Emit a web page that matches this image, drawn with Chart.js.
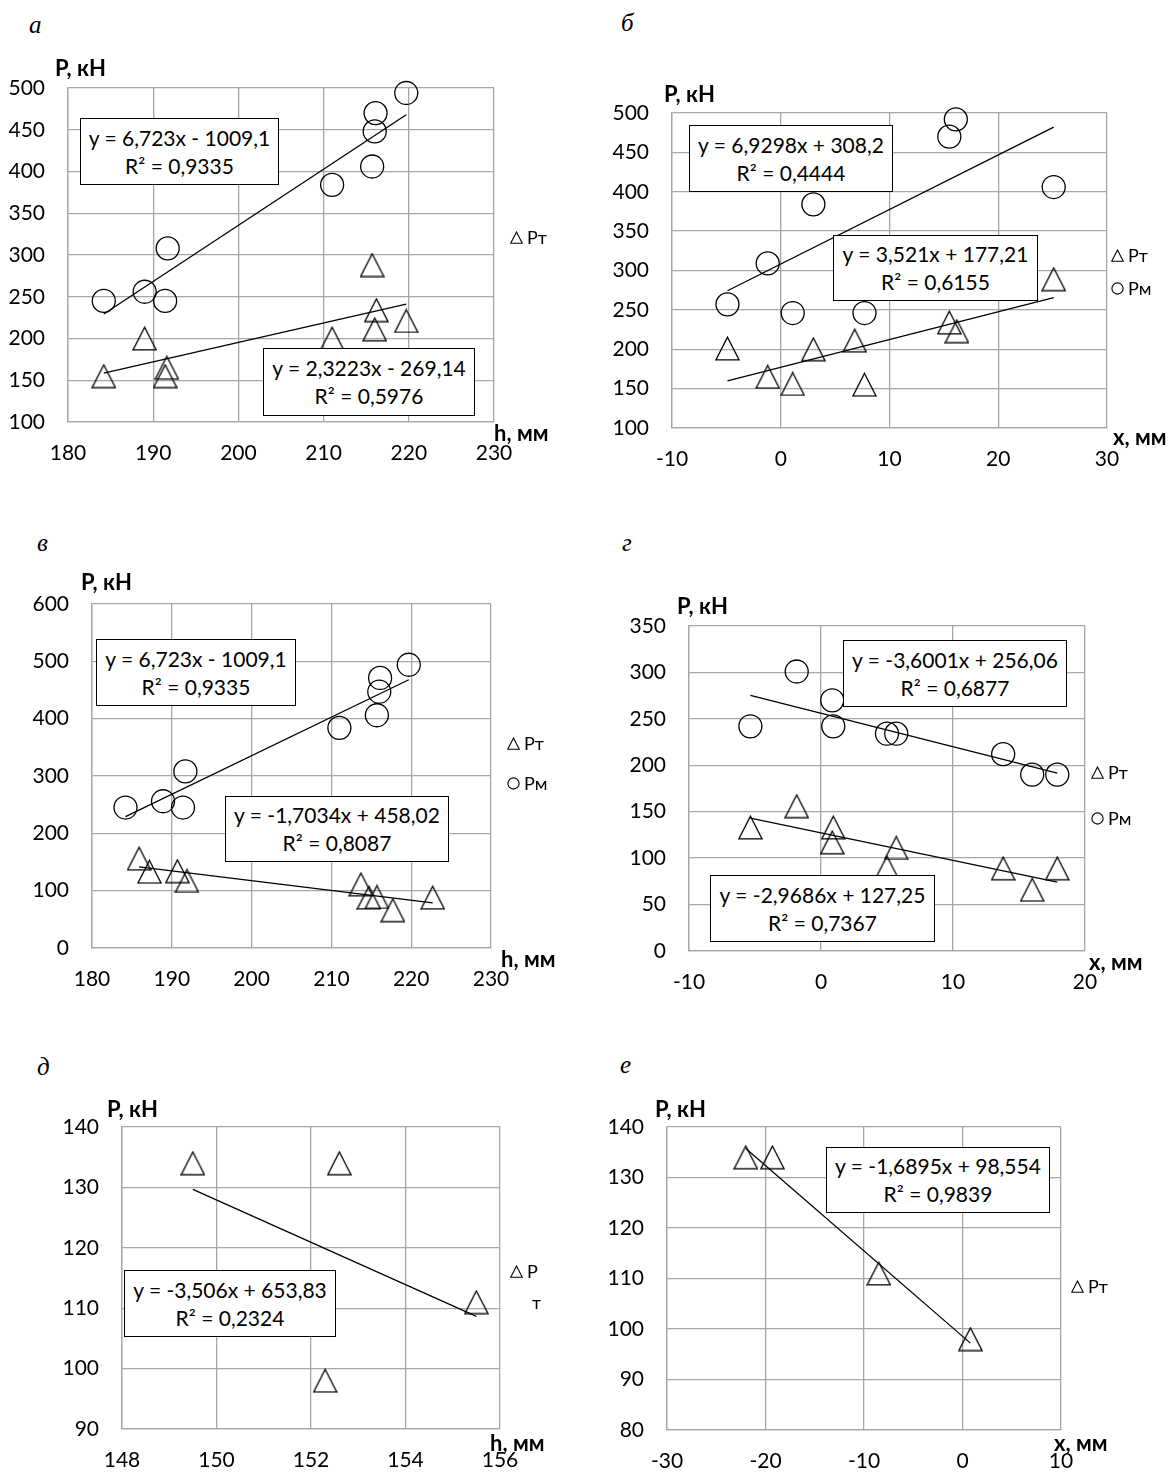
<!DOCTYPE html>
<html lang="ru">
<head>
<meta charset="utf-8">
<script src="https://cdn.jsdelivr.net/npm/chart.js@4.4.1/dist/chart.umd.min.js"></script>
<style>
  body { margin: 0; background: #fff; }
  #page { position: relative; width: 1170px; height: 1473px; overflow: hidden; font-family: Lato, "Open Sans", sans-serif; color: #000; }
  #page canvas { position: absolute; }
  .lbl { position: absolute; white-space: nowrap; transform: translateY(-50%); line-height: 1; }
  .letter { font-family: "Liberation Serif", serif; font-style: italic; font-size: 25px; }
  .axt { font-weight: bold; font-size: 22px; }
  .leg { font-size: 18px; display: flex; align-items: center; gap: 4px; }
  .eq { position: absolute; box-sizing: border-box; border: 1.6px solid #000; background: #fff;
        display: flex; flex-direction: column; justify-content: center; align-items: center;
        font-size: 21px; line-height: 28px; white-space: nowrap; }
</style>
</head>
<body>
<div id="page"></div>
<script>
// --- Data ---
// а: P vs h
const aHPm = [184.2, 189.0, 191.7, 191.4, 211.0, 215.7, 216.1, 216.0, 219.7];
const aPm  = [245, 256, 308, 245, 384, 406, 470, 448, 494];
const aHPt = [184.2, 189.0, 191.6, 191.4, 211.0, 215.7, 216.2, 216.0, 219.7];
const aPt  = [155, 200, 165, 155, 200, 288, 234, 211, 221];
const aFitPm = [6.723, -1009.1];
const aFitPt = [2.3223, -269.14];
const aXTicks = [180, 190, 200, 210, 220, 230];
const aYTicks = [100, 150, 200, 250, 300, 350, 400, 450, 500];

// б: P vs x
const bXPm = [-4.9, -1.2, 1.1, 3.0, 7.7, 15.5, 16.1, 25.1];
const bPm  = [257, 309, 246, 384, 246, 470, 492, 406];
const bXPt = [-4.9, -1.2, 1.1, 3.0, 6.8, 7.7, 15.5, 16.2, 25.1];
const bPt  = [201, 165, 156, 200, 211, 155, 234, 223, 289];
const bFitPm = [6.9298, 308.2];
const bFitPt = [3.521, 177.21];
const bXTicks = [-10, 0, 10, 20, 30];
const bYTicks = [100, 150, 200, 250, 300, 350, 400, 450, 500];

// в: P vs h
const vHPm = [184.2, 188.9, 191.7, 191.4, 211.0, 215.7, 216.1, 216.0, 219.7];
const vPm  = [245, 256, 308, 245, 384, 406, 471, 447, 494];
const vHPt = [185.9, 187.2, 190.7, 191.9, 213.7, 214.7, 215.7, 217.7, 222.7];
const vPt  = [156, 133, 134, 117, 111, 88, 89, 66, 88];
const vFitPm = [6.723, -1009.1];
const vFitPt = [-1.7034, 458.02];
const vXTicks = [180, 190, 200, 210, 220, 230];
const vYTicks = [0, 100, 200, 300, 400, 500, 600];

// г: P vs x
const gXPm = [-5.35, -1.84, 0.85, 0.93, 5.0, 5.7, 13.8, 16.0, 17.9];
const gPm  = [242, 301, 270, 242, 234, 234, 212, 190, 190];
const gXPt = [-5.35, -1.84, 0.93, 0.85, 5.0, 5.7, 13.8, 16.0, 17.9];
const gPt  = [133, 156, 133, 117, 90, 111, 89, 66, 89];
const gFitPm = [-3.6001, 256.06];
const gFitPt = [-2.9686, 127.25];
const gXTicks = [-10, 0, 10, 20];
const gYTicks = [0, 50, 100, 150, 200, 250, 300, 350];

// д: P vs h
const dH   = [149.5, 152.6, 152.3, 155.5];
const dPt  = [134, 134, 98, 111];
const dFitPt = [-3.506, 653.83];
const dXTicks = [148, 150, 152, 154, 156];
const dYTicks = [90, 100, 110, 120, 130, 140];

// е: P vs x
const eX   = [-22.0, -19.3, -8.5, 0.8];
const ePt  = [134, 134, 111, 98];
const eFitPt = [-1.6895, 98.554];
const eXTicks = [-30, -20, -10, 0, 10];
const eYTicks = [80, 90, 100, 110, 120, 130, 140];

// --- Helpers ---
const page = document.getElementById('page');
Chart.defaults.font.family = 'Lato';

// triangle marker whose box is centred on the point (like the spreadsheet marker)
function triangleMarker() {
    const c = document.createElement('canvas');
    c.width = 25; c.height = 25;
    const g = c.getContext('2d');
    g.lineWidth = 1.3;
    g.strokeStyle = '#000';
    g.beginPath();
    g.moveTo(12.5, 1.2);
    g.lineTo(24, 23.8);
    g.lineTo(1, 23.8);
    g.closePath();
    g.stroke();
    return c;
}
const tri = triangleMarker();

function points(xs, ys) {
    return xs.map((x, i) => ({ x: x, y: ys[i] }));
}
function fitLine(xs, fit) {
    const lo = Math.min(...xs), hi = Math.max(...xs);
    return [{ x: lo, y: fit[0] * lo + fit[1] }, { x: hi, y: fit[0] * hi + fit[1] }];
}
function markerSet(xs, ys, kind) {
    return {
        data: points(xs, ys),
        showLine: false,
        pointStyle: kind === 'tri' ? tri : 'circle',
        pointRadius: 11.5,
        borderColor: '#000',
        borderWidth: 1.3,
        backgroundColor: 'rgba(0,0,0,0)',
        clip: false
    };
}
function trendSet(xs, fit) {
    return {
        data: fitLine(xs, fit),
        showLine: true,
        pointRadius: 0,
        borderColor: '#000',
        borderWidth: 1.3,
        clip: false
    };
}

function addText(cls, text, left, cy) {
    const el = document.createElement('div');
    el.className = 'lbl ' + cls;
    el.style.left = left + 'px';
    el.style.top = cy + 'px';
    el.textContent = text;
    page.appendChild(el);
    return el;
}
function addLegend(kind, text, left, cy) {
    const el = document.createElement('div');
    el.className = 'lbl leg';
    el.style.left = left + 'px';
    el.style.top = cy + 'px';
    const svg = kind === 'tri'
        ? '<svg width="13" height="13"><path d="M6.5 1 L12.3 12.3 L0.7 12.3 Z" fill="none" stroke="#000" stroke-width="1.1"/></svg>'
        : '<svg width="13" height="13"><circle cx="6.5" cy="6.5" r="5.6" fill="none" stroke="#000" stroke-width="1.1"/></svg>';
    el.innerHTML = svg + '<span>' + text + '</span>';
    page.appendChild(el);
}
function addBox(lines, l, t, r, b) {
    const el = document.createElement('div');
    el.className = 'eq';
    el.style.left = l + 'px';
    el.style.top = t + 'px';
    el.style.width = (r - l) + 'px';
    el.style.height = (b - t) + 'px';
    lines.forEach(s => {
        const d = document.createElement('div');
        d.textContent = s;
        el.appendChild(d);
    });
    page.appendChild(el);
}

// --- One panel: canvas placed so that the plot area lands on the given rectangle ---
// paddings are larger than the tick-label overflow Chart.js reserves, so they win
const AXW = 70, AXH = 60, PADT = 40, PADR = 45;
function makePanel(p) {
    const cv = document.createElement('canvas');
    cv.width = p.r - p.l + AXW + PADR;
    cv.height = p.b - p.t + PADT + AXH;
    cv.style.left = (p.l - AXW) + 'px';
    cv.style.top = (p.t - PADT) + 'px';
    page.appendChild(cv);

    const gridStyle = { color: '#a6a6a6', lineWidth: 1.3, drawTicks: false };
    const borderStyle = { color: '#a6a6a6', width: 1.3 };
    const tickFont = { family: 'Lato', size: 21 };

    new Chart(cv.getContext('2d'), {
        type: 'scatter',
        data: { datasets: p.datasets },
        options: {
            responsive: false,
            animation: false,
            events: [],
            layout: { padding: { top: PADT, right: PADR, left: 0, bottom: 0 } },
            plugins: { legend: { display: false }, tooltip: { enabled: false } },
            scales: {
                x: {
                    type: 'linear',
                    min: p.xTicks[0],
                    max: p.xTicks[p.xTicks.length - 1],
                    afterBuildTicks: s => { s.ticks = p.xTicks.map(v => ({ value: v })); },
                    afterFit: s => { s.height = AXH; },
                    grid: gridStyle,
                    border: borderStyle,
                    ticks: { padding: 19, color: '#000', font: tickFont, maxRotation: 0, autoSkip: false }
                },
                y: {
                    type: 'linear',
                    min: p.yTicks[0],
                    max: p.yTicks[p.yTicks.length - 1],
                    afterBuildTicks: s => { s.ticks = p.yTicks.map(v => ({ value: v })); },
                    afterFit: s => { s.width = AXW; },
                    grid: gridStyle,
                    border: borderStyle,
                    ticks: { padding: 23, color: '#000', font: tickFont, autoSkip: false }
                }
            }
        }
    });
}

// --- Panels ---
makePanel({
    l: 68, t: 88, r: 494, b: 422, xTicks: aXTicks, yTicks: aYTicks,
    datasets: [trendSet(aHPm, aFitPm), trendSet(aHPt, aFitPt),
               markerSet(aHPm, aPm, 'circle'), markerSet(aHPt, aPt, 'tri')]
});
makePanel({
    l: 672, t: 113, r: 1107, b: 428, xTicks: bXTicks, yTicks: bYTicks,
    datasets: [trendSet(bXPm, bFitPm), trendSet(bXPt, bFitPt),
               markerSet(bXPm, bPm, 'circle'), markerSet(bXPt, bPt, 'tri')]
});
makePanel({
    l: 92, t: 604, r: 491, b: 948, xTicks: vXTicks, yTicks: vYTicks,
    datasets: [trendSet(vHPm, vFitPm), trendSet(vHPt, vFitPt),
               markerSet(vHPm, vPm, 'circle'), markerSet(vHPt, vPt, 'tri')]
});
makePanel({
    l: 689, t: 626, r: 1085, b: 951, xTicks: gXTicks, yTicks: gYTicks,
    datasets: [trendSet(gXPm, gFitPm), trendSet(gXPt, gFitPt),
               markerSet(gXPm, gPm, 'circle'), markerSet(gXPt, gPt, 'tri')]
});
makePanel({
    l: 122, t: 1127, r: 500, b: 1429, xTicks: dXTicks, yTicks: dYTicks,
    datasets: [trendSet(dH, dFitPt), markerSet(dH, dPt, 'tri')]
});
makePanel({
    l: 667, t: 1127, r: 1061, b: 1430, xTicks: eXTicks, yTicks: eYTicks,
    datasets: [trendSet(eX, eFitPt), markerSet(eX, ePt, 'tri')]
});

// --- Panel letters ---
addText('letter', 'а', 29, 24);
addText('letter', 'б', 621, 22);
addText('letter', 'в', 37, 542);
addText('letter', 'г', 622, 542);
addText('letter', 'д', 37, 1066);
addText('letter', 'е', 620, 1064);

// --- Axis titles ---
addText('axt', 'P, кН', 55, 68);
addText('axt', 'h, мм', 494, 433);
addText('axt', 'P, кН', 664, 94);
addText('axt', 'x, мм', 1113, 437);
addText('axt', 'P, кН', 81, 582);
addText('axt', 'h, мм', 501, 959);
addText('axt', 'P, кН', 677, 606);
addText('axt', 'x, мм', 1089, 962);
addText('axt', 'P, кН', 107, 1109);
addText('axt', 'h, мм', 490, 1443);
addText('axt', 'P, кН', 655, 1109);
addText('axt', 'x, мм', 1054, 1443);

// --- Legends ---
addLegend('tri', 'Pт', 510, 237);
addLegend('tri', 'Pт', 1111, 255);
addLegend('circle', 'Pм', 1111, 288);
addLegend('tri', 'Pт', 507, 743);
addLegend('circle', 'Pм', 507, 783);
addLegend('tri', 'Pт', 1091, 772);
addLegend('circle', 'Pм', 1091, 818);
addLegend('tri', 'P', 510, 1271);
addText('leg', 'т', 532, 1302);
addLegend('tri', 'Pт', 1071, 1286);

// --- Trend line equations ---
addBox(['y = 6,723x - 1009,1', 'R² = 0,9335'], 80, 118, 279, 185);
addBox(['y = 2,3223x - 269,14', 'R² = 0,5976'], 263, 348, 475, 416);
addBox(['y = 6,9298x + 308,2', 'R² = 0,4444'], 689, 125, 893, 192);
addBox(['y = 3,521x + 177,21', 'R² = 0,6155'], 833, 235, 1038, 301);
addBox(['y = 6,723x - 1009,1', 'R² = 0,9335'], 96, 639, 296, 706);
addBox(['y = -1,7034x + 458,02', 'R² = 0,8087'], 225, 796, 449, 862);
addBox(['y = -3,6001x + 256,06', 'R² = 0,6877'], 843, 640, 1067, 707);
addBox(['y = -2,9686x + 127,25', 'R² = 0,7367'], 710, 875, 935, 942);
addBox(['y = -3,506x + 653,83', 'R² = 0,2324'], 124, 1270, 336, 1337);
addBox(['y = -1,6895x + 98,554', 'R² = 0,9839'], 826, 1147, 1050, 1213);
</script>
</body>
</html>
